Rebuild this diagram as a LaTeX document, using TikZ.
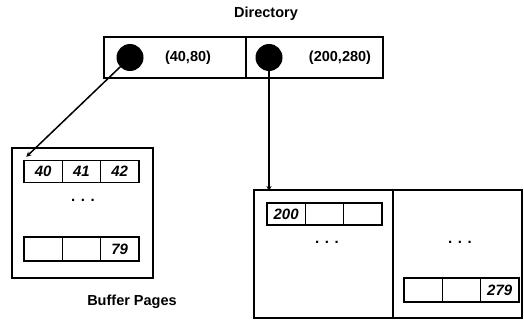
\documentclass[tikz,border=0pt]{standalone}
\usepackage{fontspec}
\setmainfont{Liberation Sans}
\usetikzlibrary{arrows.meta,positioning}

\tikzset{
  box/.style={draw, line width=1.5pt},
  cell/.style={draw, line width=1.4pt, minimum width=38.3pt, minimum height=22pt,
    inner sep=0pt, font=\fontsize{15}{15}\selectfont\bfseries\itshape},
  label/.style={font=\fontsize{14.5}{14.5}\selectfont\bfseries},
  dots/.style={font=\fontsize{15}{15}\selectfont\bfseries},
  ptr/.style={line width=1.5pt, -{Stealth[length=5pt,width=5pt]}},
}

\begin{document}
\begin{tikzpicture}[x=1pt, y=1pt]
  \useasboundingbox (0,0) rectangle (524,322);
  \def\cw{38.3}

  % Directory
  \node[label] (dirlabel) at (266,308) {Directory};
  \draw[box] (104,244) rectangle (383,285);
  \draw[box] (246,244) -- (246,285);
  \node[circle, fill=black, minimum size=27pt, inner sep=0pt] (ptrA) at (130,264.5) {};
  \node[circle, fill=black, minimum size=27pt, inner sep=0pt] (ptrB) at (269,264.5) {};
  \node[label] (rangeA) at (188,264.5) {(40,80)};
  \node[label] (rangeB) at (340,264.5) {(200,280)};

  % Buffer page for (40,80)
  \draw[box] (12,44) rectangle (153,174);
  \foreach \i/\t in {0/40,1/41,2/42}
    \node[cell] (a\i) at ({24+\cw*\i+\cw/2},150.5) {\t};
  \node[dots] (dotsA) at (83,122) {. . .};
  \foreach \i/\t in {0/,1/,2/79}
    \node[cell, minimum height=24pt] (b\i) at ({24+\cw*\i+\cw/2},73) {\t};
  \node[label] (buflabel) at (132,20) {Buffer Pages};

  % Buffer pages for (200,280)
  \draw[box] (254,4) rectangle (522,132);
  \draw[box] (393,4) -- (393,132);
  \foreach \i/\t in {0/200,1/,2/}
    \node[cell] (c\i) at ({267+\cw*\i+\cw/2},108) {\t};
  \node[dots] (dotsB) at (327,80) {. . .};
  \node[dots] (dotsC) at (460,80) {. . .};
  \foreach \i/\t in {0/,1/,2/279}
    \node[cell, minimum height=24pt] (d\i) at ({404+\cw*\i+\cw/2},32) {\t};

  % Pointers
  \coordinate (topB) at (269,131);
  \draw[ptr] (ptrA.center) -- ([shift={(3pt,3pt)}]a0.north west);
  \draw[ptr] (ptrB.center) -- (topB);
\end{tikzpicture}
\end{document}
